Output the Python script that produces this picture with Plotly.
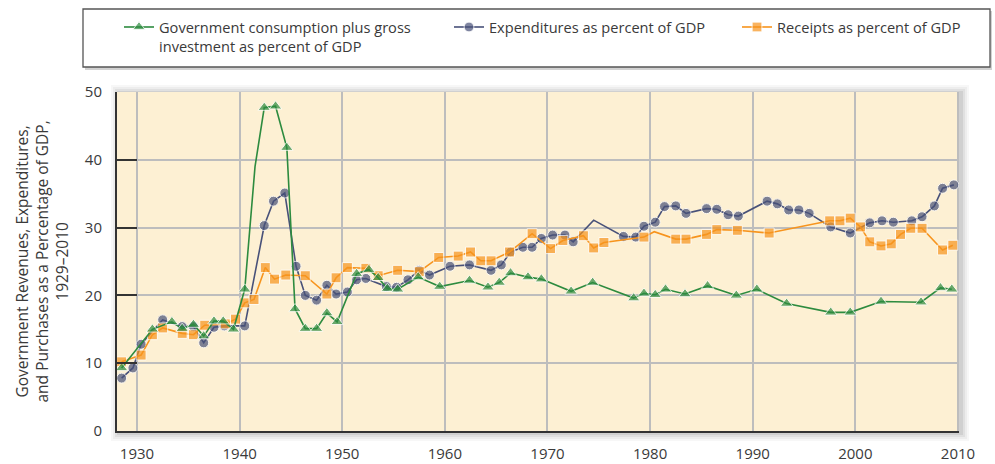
import plotly.graph_objects as go

# ---------------- data ----------------
gov_years = [1928.5, 1931.5, 1933.4, 1934.4, 1935.5, 1936.5, 1937.5, 1938.4, 1939.4, 1940.5,
             1941.5, 1942.4, 1943.5, 1944.6, 1945.4, 1946.4, 1947.5, 1948.5, 1949.5, 1951.4,
             1952.6, 1953.5, 1954.4, 1955.4, 1957.4, 1959.5, 1962.4, 1964.2, 1965.3, 1966.4,
             1968.1, 1969.4, 1972.3, 1974.4, 1978.4, 1979.4, 1980.5, 1981.5, 1983.4, 1985.6,
             1988.4, 1990.4, 1993.3, 1997.6, 1999.5, 2002.5, 2006.4, 2008.3, 2009.4]
gov_values = [9.3, 15.0, 16.1, 15.1, 15.7, 14.0, 16.2, 16.2, 15.0, 20.9,
              39.0, 47.7, 47.9, 41.8, 18.0, 15.1, 15.1, 17.4, 16.1, 23.2,
              23.8, 22.6, 21.0, 20.9, 22.7, 21.3, 22.2, 21.2, 21.9, 23.3,
              22.7, 22.4, 20.6, 21.9, 19.6, 20.3, 20.1, 20.9, 20.2, 21.4,
              20.0, 20.9, 18.8, 17.5, 17.5, 19.1, 19.0, 21.1, 20.9]
gov_unmarked = [1941.5]

exp_years = [1928.5, 1929.6, 1930.4, 1932.5, 1934.4, 1935.5, 1936.5, 1937.5, 1938.5, 1940.5,
             1942.4, 1943.3, 1944.4, 1945.5, 1946.4, 1947.5, 1948.5, 1949.4, 1950.5, 1951.4,
             1952.3, 1954.3, 1955.3, 1956.4, 1957.5, 1958.5, 1960.5, 1962.4, 1964.5, 1965.5,
             1966.4, 1967.6, 1968.5, 1969.4, 1970.5, 1971.7, 1972.5, 1974.5, 1977.4, 1978.6,
             1979.4, 1980.5, 1981.4, 1982.5, 1983.5, 1985.5, 1986.5, 1987.6, 1988.6, 1991.4,
             1992.4, 1993.5, 1994.5, 1995.5, 1997.6, 1999.5, 2001.4, 2002.6, 2003.7, 2005.5,
             2006.5, 2007.7, 2008.5, 2009.6]
exp_values = [7.8, 9.3, 12.8, 16.4, 15.4, 15.4, 13.0, 15.3, 15.5, 15.5,
              30.3, 33.9, 35.1, 24.3, 20.0, 19.3, 21.5, 20.2, 20.5, 22.3,
              22.5, 21.3, 21.2, 22.3, 23.7, 23.0, 24.3, 24.5, 23.7, 24.5,
              26.4, 27.1, 27.1, 28.4, 28.9, 28.9, 27.9, 31.1, 28.7, 28.6,
              30.2, 30.8, 33.1, 33.2, 32.1, 32.8, 32.7, 31.9, 31.7, 33.9,
              33.5, 32.6, 32.6, 32.1, 30.1, 29.2, 30.7, 31.0, 30.8, 31.0,
              31.6, 33.2, 35.8, 36.3]
exp_unmarked = [1974.5]

rec_years = [1928.5, 1930.4, 1931.5, 1932.5, 1934.4, 1935.5, 1936.6, 1938.6, 1939.6, 1940.5,
             1941.4, 1942.5, 1943.4, 1944.5, 1946.4, 1948.5, 1949.4, 1950.5, 1952.3, 1953.5,
             1955.4, 1957.5, 1959.4, 1961.3, 1962.5, 1963.5, 1964.5, 1966.3, 1968.5, 1970.3,
             1971.5, 1973.5, 1974.5, 1975.5, 1979.4, 1980.4, 1982.5, 1983.5, 1985.5, 1986.5,
             1988.5, 1991.6, 1997.5, 1998.5, 1999.5, 2000.5, 2001.4, 2002.5, 2003.5, 2004.4,
             2005.4, 2006.5, 2008.5, 2009.5]
rec_values = [10.2, 11.2, 14.2, 15.2, 14.4, 14.2, 15.6, 15.8, 16.5, 18.9,
              19.4, 24.1, 22.4, 23.0, 22.9, 20.2, 22.6, 24.1, 24.0, 22.9,
              23.7, 23.5, 25.6, 25.8, 26.4, 25.1, 25.1, 26.4, 29.1, 26.9,
              28.1, 28.8, 27.0, 27.8, 28.6, 29.4, 28.3, 28.3, 29.0, 29.7,
              29.6, 29.2, 31.0, 31.0, 31.4, 30.1, 27.9, 27.3, 27.6, 29.0,
              29.9, 29.9, 26.7, 27.4]
rec_unmarked = [1980.4]

x_ticks = [1930, 1940, 1950, 1960, 1970, 1980, 1990, 2000, 2010]
y_ticks = [0, 10, 20, 30, 40, 50]

series_names = ["Government consumption plus gross<br>investment as percent of GDP",
                "Expenditures as percent of GDP",
                "Receipts as percent of GDP"]

# ---------------- styling ----------------
W, H = 995, 464
ML, MR, MT, MB = 117, 36, 92, 33
PW, PH = W - ML - MR, H - MT - MB
FONT = "Open Sans, Noto Sans, Liberation Sans, sans-serif"
TXT = "#3a3a3a"
GREEN = "#2d8b3f"
BLUE = "#485179"
ORANGE = "#f7941d"
BG = "#fdf0d3"


def px_x(p):
    return (p - ML) / PW


def px_y(p):
    return (H - MB - p) / PH


def sizes(years, unmarked, s):
    return [0 if y in unmarked else s for y in years]


fig = go.Figure()

fig.add_trace(go.Scatter(
    x=exp_years, y=exp_values, name=series_names[1], mode="lines+markers",
    line=dict(color=BLUE, width=1.6),
    marker=dict(symbol="circle", color=BLUE, size=sizes(exp_years, exp_unmarked, 10)),
    legend="legend2", showlegend=True))
fig.add_trace(go.Scatter(
    x=rec_years, y=rec_values, name=series_names[2], mode="lines+markers",
    line=dict(color=ORANGE, width=1.6),
    marker=dict(symbol="square", color=ORANGE, size=sizes(rec_years, rec_unmarked, 10)),
    legend="legend3", showlegend=True))
fig.add_trace(go.Scatter(
    x=gov_years, y=gov_values, name=series_names[0], mode="lines+markers",
    line=dict(color=GREEN, width=1.6),
    marker=dict(symbol="triangle-up", color=GREEN, size=sizes(gov_years, gov_unmarked, 11)),
    legend="legend", showlegend=True))

shapes = []
# soft shadow around the plot area
for k, a in [(8, 0.03), (6, 0.04), (4, 0.05), (2, 0.07)]:
    shapes.append(dict(type="rect", xref="paper", yref="paper", layer="below",
                       x0=px_x(ML - k + 2), x1=px_x(ML + PW + k + 2),
                       y0=px_y(MT + PH + k + 2), y1=px_y(MT - k + 1),
                       line=dict(width=0), fillcolor=f"rgba(0,0,0,{a})"))
shapes.append(dict(type="rect", xref="paper", yref="paper", layer="below",
                   x0=0, x1=1, y0=0, y1=1, line=dict(width=0), fillcolor=BG))
# legend box with shadow
shapes.append(dict(type="rect", xref="paper", yref="paper", layer="below",
                   x0=px_x(85), x1=px_x(992), y0=px_y(70), y1=px_y(11),
                   line=dict(width=0), fillcolor="rgba(0,0,0,0.18)"))
shapes.append(dict(type="rect", xref="paper", yref="paper", layer="below",
                   x0=px_x(83), x1=px_x(990), y0=px_y(67), y1=px_y(9),
                   line=dict(width=1.3, color="#555555"), fillcolor="white"))

leg_common = dict(xanchor="left", yanchor="top", orientation="v",
                  bgcolor="rgba(0,0,0,0)", borderwidth=0, valign="top",
                  font=dict(family=FONT, size=14.6, color=TXT))

fig.update_layout(
    width=W, height=H,
    showlegend=True,
    margin=dict(l=ML, r=MR, t=MT, b=MB, pad=0, autoexpand=False),
    paper_bgcolor="white",
    plot_bgcolor=BG,
    font=dict(family=FONT, color=TXT),
    shapes=shapes,
    legend=dict(x=px_x(119), y=px_y(11), **leg_common),
    legend2=dict(x=px_x(449), y=px_y(11), **leg_common),
    legend3=dict(x=px_x(737), y=px_y(11), **leg_common),
    annotations=[dict(
        text="Government Revenues, Expenditures,<br>and Purchases as a Percentage of GDP,<br>1929\u20132010",
        xref="paper", yref="paper", x=px_x(41), y=0.5, xanchor="center", yanchor="middle",
        textangle=-90, showarrow=False, font=dict(family=FONT, size=15.5, color=TXT))],
)

fig.update_xaxes(
    range=[1928.05, 2010.1], tickvals=x_ticks, ticktext=[str(v) for v in x_ticks],
    showgrid=True, gridcolor="#bdbdbd", gridwidth=1.5,
    showline=True, linecolor="#333333", linewidth=2,
    ticks="", ticklabelstandoff=8, zeroline=False,
    tickfont=dict(family=FONT, size=15, color=TXT))
fig.update_yaxes(
    range=[0, 50], tickvals=y_ticks,
    showgrid=True, gridcolor="#bdbdbd", gridwidth=1.5,
    showline=True, linecolor="#333333", linewidth=2,
    ticks="inside", ticklen=20, tickwidth=1.5, tickcolor="#333333",
    ticklabelstandoff=10, zeroline=False,
    tickfont=dict(family=FONT, size=15, color=TXT))

fig.write_html("out.html", config={"displayModeBar": False},
               post_script="document.body.style.margin='0';document.body.style.overflow='hidden';")
